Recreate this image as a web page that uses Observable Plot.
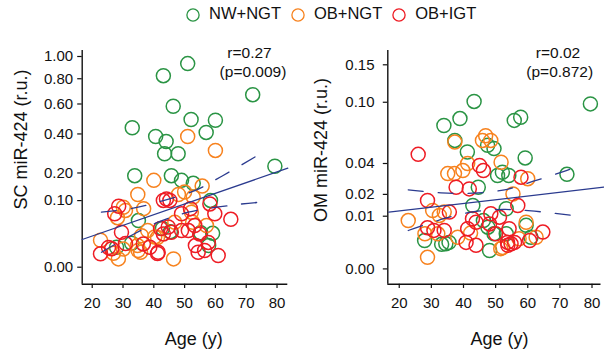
<!DOCTYPE html>
<html><head><meta charset="utf-8">
<script src="https://cdn.jsdelivr.net/npm/d3@7"></script>
<script src="https://cdn.jsdelivr.net/npm/@observablehq/plot@0.6"></script>
<style>
body{margin:0;background:#fff;font-family:"Liberation Sans",Arial,sans-serif;}
#wrap{width:604px;height:358px;overflow:hidden;}
#legend{height:27px;margin-bottom:9px;display:flex;align-items:center;padding-left:186px;font-size:16.5px;color:#111;}
.item{display:flex;align-items:center;margin-right:10px;}
.item svg{margin-right:9px;margin-top:2px;}
#charts{display:flex;}
</style></head><body>
<div id="wrap"><div id="legend"></div><div id="charts"></div></div>
<script>
const groups = ["NW+NGT", "OB+NGT", "OB+IGT"];
const colors = ["#2a9444", "#f7821e", "#ee1c24"];
const navy = "#2b3b8f";
const xTicks = [20, 30, 40, 50, 60, 70, 80];

// ---- SC panel (left) ----
const scNwAge = [51.0, 43.1, 72.1, 46.3, 52.1, 60.0, 33.0, 57.0, 40.6, 44.0, 43.5, 47.9, 79.3, 33.8, 45.7, 49.0, 52.8, 58.4, 35.0, 45.4, 55.2, 59.1, 32.8, 42.8, 57.8, 27.9];
const scNwVal = [0.98, 0.87, 0.71, 0.62, 0.525, 0.52, 0.47, 0.44, 0.415, 0.385, 0.316, 0.316, 0.253, 0.21, 0.21, 0.19, 0.178, 0.116, 0.060, 0.037, 0.035, 0.034, 0.019, 0.043, 0.016, 0.014];
const scObAge = [51.0, 60.0, 40.0, 55.7, 34.8, 50.0, 52.8, 48.0, 30.8, 36.7, 30.1, 28.2, 52.2, 57.1, 52.6, 38.0, 41.2, 36.0, 40.3, 22.7, 34.7, 35.7, 26.9, 28.5, 46.4, 30.1, 34.9, 46.8];
const scObVal = [0.415, 0.334, 0.19, 0.167, 0.136, 0.145, 0.127, 0.136, 0.086, 0.091, 0.095, 0.067, 0.081, 0.049, 0.056, 0.039, 0.027, 0.030, 0.028, 0.023, 0.016, 0.009, 0.008, 0.004, 0.004, 0.012, 0.0106, 0.056];
const scIgtAge = [28.6, 27.3, 44.1, 45.2, 43.1, 58.2, 59.8, 65.0, 49.0, 51.9, 53.3, 44.7, 43.1, 45.7, 49.0, 51.2, 54.9, 57.7, 29.5, 30.8, 25.3, 26.3, 36.6, 38.7, 41.4, 41.2, 53.5, 56.5, 54.4, 60.9, 22.7, 42.2];
const scIgtVal = [0.098, 0.077, 0.121, 0.116, 0.116, 0.105, 0.077, 0.063, 0.077, 0.091, 0.049, 0.046, 0.033, 0.036, 0.039, 0.039, 0.033, 0.020, 0.036, 0.0185, 0.0137, 0.0123, 0.018, 0.014, 0.009, 0.0079, 0.016, 0.0106, 0.009, 0.0063, 0.0076, 0.043];
const scFitAge = [16.75, 83.5];
const scFitVal = [0.0241, 0.2436];
const scUpAge = [23.0, 33.3, 43.1, 53.3, 62.5, 75.8];
const scUpVal = [0.0811, 0.0923, 0.1158, 0.150, 0.2107, 0.328];
const scLoAge = [23.0, 32.2, 41.4, 51.2, 66.3, 76.9];
const scLoVal = [0.0090, 0.0292, 0.0563, 0.0811, 0.1023, 0.1126];
const scTicks = [0, 0.1, 0.2, 0.4, 0.6, 0.8, 1.0];

// ---- OM panel (right) ----
const omNwAge = [43.3, 79.5, 38.9, 33.9, 57.8, 55.8, 37.3, 49.5, 47.5, 41.2, 59.2, 72.2, 52.1, 50.6, 54.1, 44.6, 42.9, 53.3, 46.2, 47.6, 59.5, 49.5, 48.1, 27.9, 34.5, 35.5, 61.0, 33.2, 53.3];
const omNwVal = [0.105, 0.102, 0.085, 0.0775, 0.0865, 0.083, 0.0625, 0.055, 0.058, 0.052, 0.047, 0.0345, 0.036, 0.0337, 0.0337, 0.026, 0.016, 0.0145, 0.0096, 0.0073, 0.0079, 0.0053, 0.0017, 0.0036, 0.0029, 0.0032, 0.0044, 0.0028, 0.0053];
const omObAge = [37.3, 46.9, 45.9, 48.5, 51.7, 41.3, 35.1, 37.2, 39.8, 60.0, 55.4, 30.4, 34.0, 32.5, 22.8, 32.0, 28.0, 38.2, 28.8, 51.6, 57.3, 59.5, 62.6, 52.2, 42.2];
const omObVal = [0.061, 0.067, 0.0625, 0.0625, 0.0435, 0.0425, 0.035, 0.035, 0.0372, 0.0315, 0.022, 0.0137, 0.013, 0.0116, 0.0096, 0.0053, 0.0053, 0.0044, 0.0008, 0.002, 0.004, 0.009, 0.0044, 0.0022, 0.0055];
const omIgtAge = [25.9, 45.0, 46.2, 57.9, 37.7, 41.8, 56.9, 28.8, 35.6, 42.8, 48.5, 51.2, 28.8, 34.0, 41.3, 43.9, 48.1, 50.0, 54.2, 64.7, 40.8, 43.9, 53.7, 54.8, 55.9, 53.8, 60.6, 30.8];
const omIgtVal = [0.05, 0.041, 0.0372, 0.0325, 0.026, 0.025, 0.016, 0.0185, 0.013, 0.0103, 0.0123, 0.0109, 0.0071, 0.0063, 0.0068, 0.009, 0.0084, 0.0053, 0.0068, 0.0058, 0.0032, 0.0026, 0.0032, 0.0029, 0.0032, 0.0026, 0.0036, 0.0063];
const omFitAge = [16.75, 83.65];
const omFitVal = [0.01297, 0.0260];
const omUpAge = [22.8, 33.0, 42.9, 52.8, 62.6, 72.0, 76.3];
const omUpVal = [0.02445, 0.0227, 0.02247, 0.02445, 0.0303, 0.0372, 0.0410];
const omLoAge = [22.8, 32.0, 42.3, 52.2, 62.1, 76.7];
const omLoVal = [0.00626, 0.00962, 0.01296, 0.01416, 0.0134, 0.01117];
const omTicks = [0, 0.01, 0.02, 0.04, 0.10, 0.15];

const rows = (a, v) => a.map((age, i) => ({age, val: v[i]}));

// legend
const legend = d3.select("#legend");
groups.forEach((g, i) => {
  const it = legend.append("div").attr("class", "item");
  const s = it.append("svg").attr("width", 14).attr("height", 14);
  s.append("circle").attr("cx", 7).attr("cy", 7).attr("r", 6.1)
    .attr("fill", "none").attr("stroke", colors[i]).attr("stroke-width", 1.3);
  it.append("span").text(g);
});

function panel(o) {
  return Plot.plot({
    width: 302, height: 322,
    marginTop: 14, marginBottom: 74.3, marginLeft: o.ml, marginRight: o.mr,
    style: {fontFamily: "'Liberation Sans', Arial, sans-serif", fontSize: "15px", color: "#111", background: "transparent", overflow: "visible"},
    x: {domain: o.xDomain},
    y: {type: "sqrt", domain: o.yDomain},
    marks: [
      Plot.axisX({ticks: xTicks, tickFormat: d3.format("d"), tickSize: 4.3, tickPadding: 9, label: null, strokeWidth: 1.2}),
      Plot.axisY({ticks: o.yTicks, tickFormat: d3.format(".2f"), tickSize: 4.5, tickPadding: o.tp, dy: o.tdy, label: null, strokeWidth: 1.2}),
      Plot.ruleX([o.xDomain[0]], {stroke: "#111", strokeWidth: 1.4}),
      Plot.ruleY([o.yDomain[0]], {stroke: "#111", strokeWidth: 1.4}),
      Plot.dot(o.nw, {x: "age", y: "val", r: 7, stroke: colors[0], strokeWidth: 1.5, fill: "none"}),
      Plot.dot(o.ob, {x: "age", y: "val", r: 7, stroke: colors[1], strokeWidth: 1.5, fill: "none"}),
      Plot.dot(o.igt, {x: "age", y: "val", r: 7, stroke: colors[2], strokeWidth: 1.5, fill: "none"}),
      Plot.line(o.fit, {x: "age", y: "val", stroke: navy, strokeWidth: 1.3}),
      Plot.line(o.up, {x: "age", y: "val", stroke: navy, strokeWidth: 1.3, strokeDasharray: "15,15", curve: "catmull-rom"}),
      Plot.line(o.lo, {x: "age", y: "val", stroke: navy, strokeWidth: 1.3, strokeDasharray: "15,15", curve: "catmull-rom"}),
      Plot.text([o.ylabel], {text: d => d, frameAnchor: "top-left", dx: o.ylDx, dy: o.ylDy, rotate: -90, lineAnchor: "bottom", textAnchor: "middle", fontSize: 18}),
      Plot.text(["Age (y)"], {text: d => d, frameAnchor: "bottom", dx: o.xlDx, dy: 61, lineAnchor: "bottom", textAnchor: "middle", fontSize: 18}),
      Plot.text([o.r], {text: d => d, frameAnchor: "top-left", dx: o.rDx, dy: 7.5, lineAnchor: "bottom", textAnchor: "middle", fontSize: 15.5}),
      Plot.text([o.p], {text: d => d, frameAnchor: "top-left", dx: o.pDx, dy: 26.7, lineAnchor: "bottom", textAnchor: "middle", fontSize: 15.5})
    ]
  });
}

const charts = document.getElementById("charts");
charts.append(panel({
  ml: 81.7, mr: 14.7, xDomain: [16.75, 83.5], yDomain: [-0.00324, 1.1071], yTicks: scTicks, tp: 4.5, tdy: -5,
  nw: rows(scNwAge, scNwVal), ob: rows(scObAge, scObVal), igt: rows(scIgtAge, scIgtVal),
  fit: rows(scFitAge, scFitVal), up: rows(scUpAge, scUpVal), lo: rows(scLoAge, scLoVal),
  ylabel: "SC miR-424 (r.u.)", ylDx: -55.2, ylDy: 89, xlDx: 8.8,
  r: "r=0.27", p: "(p=0.009)", rDx: 167.3, pDx: 170.8
}));
charts.append(panel({
  ml: 85.3, mr: 3.5, xDomain: [16.44, 82.8], yDomain: [-0.000518, 0.17698], yTicks: omTicks, tp: 8.8, tdy: -3.3,
  nw: rows(omNwAge, omNwVal), ob: rows(omObAge, omObVal), igt: rows(omIgtAge, omIgtVal),
  fit: rows(omFitAge, omFitVal), up: rows(omUpAge, omUpVal), lo: rows(omLoAge, omLoVal),
  ylabel: "OM miR-424 (r.u.)", ylDx: -60.8, ylDy: 99.4, xlDx: 5,
  r: "r=0.02", p: "(p=0.872)", rDx: 170.2, pDx: 171.9
}));
</script>
</body></html>
